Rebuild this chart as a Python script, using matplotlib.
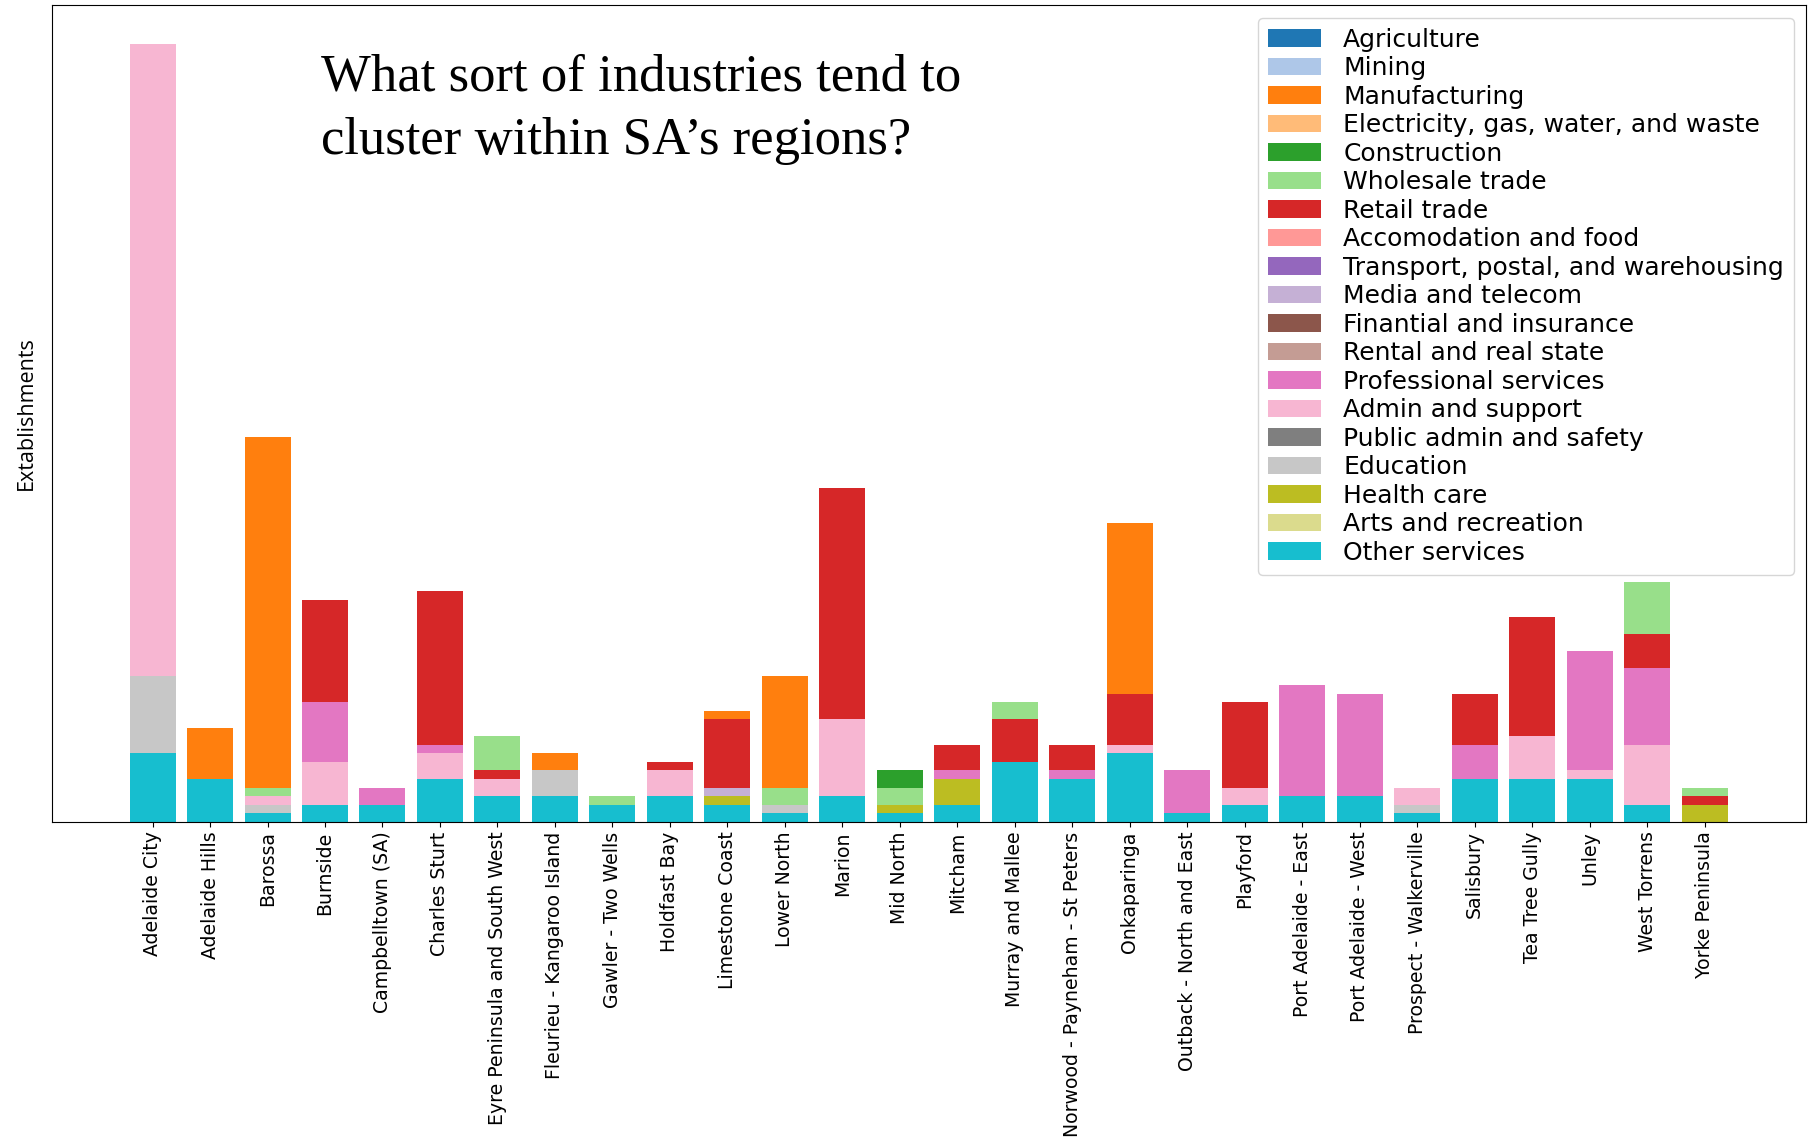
import matplotlib
matplotlib.use("Agg")
import matplotlib.pyplot as plt
import numpy as np

REGIONS = [
    "Adelaide City", "Adelaide Hills", "Barossa", "Burnside", "Campbelltown (SA)",
    "Charles Sturt", "Eyre Peninsula and South West", "Fleurieu - Kangaroo Island",
    "Gawler - Two Wells", "Holdfast Bay", "Limestone Coast", "Lower North", "Marion",
    "Mid North", "Mitcham", "Murray and Mallee", "Norwood - Payneham - St Peters",
    "Onkaparinga", "Outback - North and East", "Playford", "Port Adelaide - East",
    "Port Adelaide - West", "Prospect - Walkerville", "Salisbury", "Tea Tree Gully",
    "Unley", "West Torrens", "Yorke Peninsula",
]

INDUSTRIES = [
    "Agriculture", "Mining", "Manufacturing", "Electricity, gas, water, and waste",
    "Construction", "Wholesale trade", "Retail trade", "Accomodation and food",
    "Transport, postal, and warehousing", "Media and telecom", "Finantial and insurance",
    "Rental and real state", "Professional services", "Admin and support",
    "Public admin and safety", "Education", "Health care", "Arts and recreation",
    "Other services",
]

zero = [0] * 28
agriculture = zero
mining = zero
manufacturing = [0, 6, 41, 0, 0, 0, 0, 2, 0, 0, 1, 13, 0, 0, 0, 0, 0, 20, 0, 0, 0, 0, 0, 0, 0, 0, 0, 0]
electricity = zero
construction = [0, 0, 0, 0, 0, 0, 0, 0, 0, 0, 0, 0, 0, 2, 0, 0, 0, 0, 0, 0, 0, 0, 0, 0, 0, 0, 0, 0]
wholesale = [0, 0, 1, 0, 0, 0, 4, 0, 1, 0, 0, 2, 0, 2, 0, 2, 0, 0, 0, 0, 0, 0, 0, 0, 0, 0, 6, 1]
retail = [0, 0, 0, 12, 0, 18, 1, 0, 0, 1, 8, 0, 27, 0, 3, 5, 3, 6, 0, 10, 0, 0, 0, 6, 14, 0, 4, 1]
accomodation = zero
transport = zero
media = [0, 0, 0, 0, 0, 0, 0, 0, 0, 0, 1, 0, 0, 0, 0, 0, 0, 0, 0, 0, 0, 0, 0, 0, 0, 0, 0, 0]
financial = zero
rental = zero
professional = [0, 0, 0, 7, 2, 1, 0, 0, 0, 0, 0, 0, 0, 0, 1, 0, 1, 0, 5, 0, 13, 12, 0, 4, 0, 14, 9, 0]
admin = [74, 0, 1, 5, 0, 3, 2, 0, 0, 3, 0, 0, 9, 0, 0, 0, 0, 1, 0, 2, 0, 0, 2, 0, 5, 1, 7, 0]
public_admin = zero
education = [9, 0, 1, 0, 0, 0, 0, 3, 0, 0, 0, 1, 0, 0, 0, 0, 0, 0, 0, 0, 0, 0, 1, 0, 0, 0, 0, 0]
health = [0, 0, 0, 0, 0, 0, 0, 0, 0, 0, 1, 0, 0, 1, 3, 0, 0, 0, 0, 0, 0, 0, 0, 0, 0, 0, 0, 2]
arts = zero
other = [8, 5, 1, 2, 2, 5, 3, 3, 2, 3, 2, 1, 3, 1, 2, 7, 5, 8, 1, 2, 3, 3, 1, 5, 5, 5, 2, 0]

SERIES = [
    agriculture, mining, manufacturing, electricity, construction, wholesale, retail,
    accomodation, transport, media, financial, rental, professional, admin,
    public_admin, education, health, arts, other,
]

colors = [plt.cm.tab20(i) for i in range(len(INDUSTRIES))]

fig = plt.figure(figsize=(18.1, 11.44), dpi=100)
ax = fig.add_axes([0.0287, 0.2817, 0.9693, 0.7139])

x = np.arange(len(REGIONS))
bottom = np.zeros(len(REGIONS))
handles = {}
# stack from the last industry (bottom) up to the first
for name, vals, color in reversed(list(zip(INDUSTRIES, SERIES, colors))):
    vals = np.asarray(vals, dtype=float)
    handles[name] = ax.bar(x, vals, 0.8, bottom=bottom, color=color, label=name)
    bottom += vals

ax.set_xlim(-1.75, 28.77)
ax.set_ylim(0, bottom.max() * 1.05)
ax.set_yticks([])
ax.set_xticks(x)
ax.set_xticklabels(REGIONS, rotation=90, fontsize=13.6)
ax.set_ylabel("Extablishments", family="Open Sans", fontsize=15.5)
ax.yaxis.set_label_coords(-0.0086, 0.5)

ax.legend([handles[n] for n in INDUSTRIES], INDUSTRIES, loc="upper right",
          fontsize=18, labelspacing=0.18, handlelength=2.1, handletextpad=0.9,
          borderpad=0.4)

fig.text(0.1773, 0.953, "What sort of industries tend to\ncluster within SA\u2019s regions?",
         family="Liberation Serif", fontsize=38, va="top", ha="left", linespacing=1.4)

fig.savefig("out.png", dpi=100)
